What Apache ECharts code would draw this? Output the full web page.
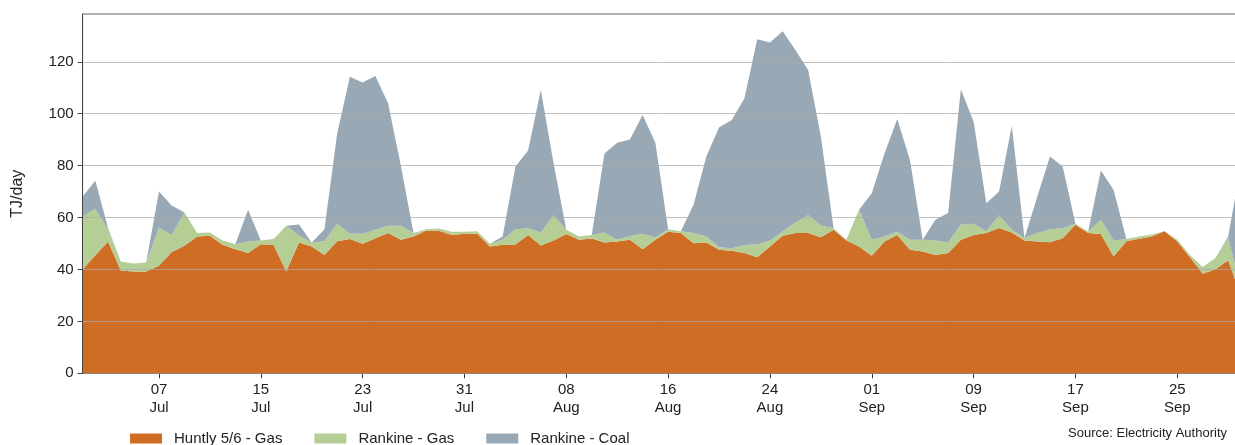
<!DOCTYPE html>
<html><head><meta charset="utf-8">
<script src="https://cdn.jsdelivr.net/npm/echarts@6/dist/echarts.min.js"></script>
<style>html,body{margin:0;padding:0;background:#fff}#c{width:1235px;height:445px}</style>
</head><body><div id="c"></div>
<script>
// Daily categories 01 Jul .. 30 Sep
const months = [['Jul', 31], ['Aug', 31], ['Sep', 30]];
const categories = [];
months.forEach(([m, n]) => { for (let d = 1; d <= n; d++) categories.push((d < 10 ? '0' : '') + d + ' ' + m); });

// TJ/day
const huntlyGas = [40.0,45.5,50.8,39.6,39.2,39.2,41.4,46.7,49.1,52.7,53.0,49.5,47.8,46.3,49.7,49.5,39.2,50.4,48.8,45.6,
  50.9,51.7,49.9,52.0,54.0,51.4,52.7,55.0,54.9,53.3,53.8,53.8,48.8,49.5,49.6,53.3,49.2,51.2,53.7,51.4,
  51.9,50.4,50.8,51.4,47.8,51.4,54.5,54.0,50.1,50.4,47.6,47.2,46.3,44.7,48.8,53.0,54.0,54.0,52.4,55.3,
  51.2,48.8,45.3,50.8,53.3,47.6,46.9,45.6,46.3,51.4,53.3,54.0,56.0,54.2,51.2,50.8,50.5,52.0,57.2,54.0,
  53.7,45.0,50.9,51.8,52.7,54.7,50.8,44.7,38.3,40.1,43.5,30.0];
const rankineGas = [20.4,17.8,4.7,3.5,3.1,3.5,14.8,6.6,12.8,1.3,1.2,1.7,1.9,4.5,1.5,2.2,17.6,2.6,1.6,5.3,
  6.7,2.1,3.9,3.3,2.8,5.4,1.3,0.5,0.9,1.2,0.7,0.9,1.1,1.9,5.9,2.6,5.0,9.8,1.6,1.3,
  1.4,3.8,0.6,1.5,5.9,1.0,1.0,0.7,3.9,2.3,1.0,1.0,3.1,4.9,2.4,1.6,4.1,7.0,4.5,0.6,
  0.2,14.2,6.1,1.9,1.2,3.8,4.5,5.6,4.1,5.9,4.3,0.7,4.9,1.1,0.9,3.2,5.0,3.9,0.4,0.6,
  5.4,6.2,0.8,0.9,0.8,0.0,0.6,0.9,2.6,4.3,8.5,3.0];
const rankineCoal = [7.7,10.9,0.5,0,0,0,13.8,11.3,0,0,0,0,0,12.2,0,0,0,4.3,0,4.6,
  34.8,60.4,58.2,59.2,47.2,23.2,0,0,0,0,0,0,0,1.3,24.1,29.9,54.9,19.9,0,0,
  0,30.5,37.4,37.2,45.8,36.4,0,0,10.9,30.8,46.1,49.4,56.5,79.1,76.2,77.2,66.4,55.8,34.3,0,
  0,0,18.0,32.0,43.5,30.8,0,7.9,11.3,52.1,39.3,10.8,9.1,40.0,0,14.0,28.0,23.8,0,0,
  19.0,19.4,0,0,0,0,0,0,0,0,0.7,47.0];

const yTicks = [0, 20, 40, 60, 80, 100, 120];
const seriesNames = ['Huntly 5/6 - Gas', 'Rankine - Gas', 'Rankine - Coal'];
const colors = ['#D06D24', '#B5CE96', '#98A8B5'];

const tickEvery = (i) => (i - 6) % 8 === 0;
const font = 'Liberation Sans, Arial, sans-serif';

const chart = echarts.init(document.getElementById('c'), null, { renderer: 'canvas' });
chart.setOption({
  animation: false,
  backgroundColor: '#fff',
  color: colors,
  grid: { left: 82.6, top: 14, width: 1158.3, height: 359.3, outerBoundsMode: 'none', containLabel: false,
    show: true, borderColor: '#666', borderWidth: 1, backgroundColor: 'transparent' },
  legend: {
    data: seriesNames, left: 125, top: 426, itemWidth: 32, itemHeight: 10, itemGap: 32,
    icon: 'rect', textStyle: { fontFamily: font, fontSize: 15, color: '#222', padding: [0, 0, 0, 7] }
  },
  graphic: [{
    type: 'text', right: 8, top: 427,
    style: { text: 'Source: Electricity Authority', font: '13px ' + font, fill: '#222' }
  }],
  xAxis: {
    type: 'category', data: categories, boundaryGap: false,
    axisLine: { lineStyle: { color: '#111', width: 1 } },
    axisTick: { interval: (i) => tickEvery(i), length: 5, lineStyle: { color: '#333' } },
    axisLabel: {
      interval: (i) => tickEvery(i), margin: 8, fontFamily: font, fontSize: 15, color: '#222', lineHeight: 18,
      formatter: (v) => v.replace(' ', '\n')
    },
    splitLine: { show: false }
  },
  yAxis: {
    type: 'value', min: 0, max: 138.4, interval: 20, z: 5,
    name: 'TJ/day', nameLocation: 'middle', nameGap: 57, nameRotate: 90,
    nameTextStyle: { fontFamily: font, fontSize: 16, color: '#222' },
    axisLine: { show: true, lineStyle: { color: '#444', width: 1 } },
    axisTick: { show: true, length: 5, lineStyle: { color: '#444' } },
    axisLabel: { margin: 9, fontFamily: font, fontSize: 15, color: '#222', showMaxLabel: false,
      formatter: (v) => yTicks.includes(v) ? String(v) : '' },
    splitLine: { show: true, lineStyle: { color: 'rgba(170,170,170,0.75)', width: 1 } }
  },
  series: [huntlyGas, rankineGas, rankineCoal].map((d, k) => ({
    name: seriesNames[k], type: 'line', stack: 'total', data: d,
    symbol: 'none', smooth: false,
    lineStyle: { width: 0 },
    areaStyle: { color: colors[k], opacity: 1 },
    itemStyle: { color: colors[k] }
  }))
});
</script>
</body></html>
